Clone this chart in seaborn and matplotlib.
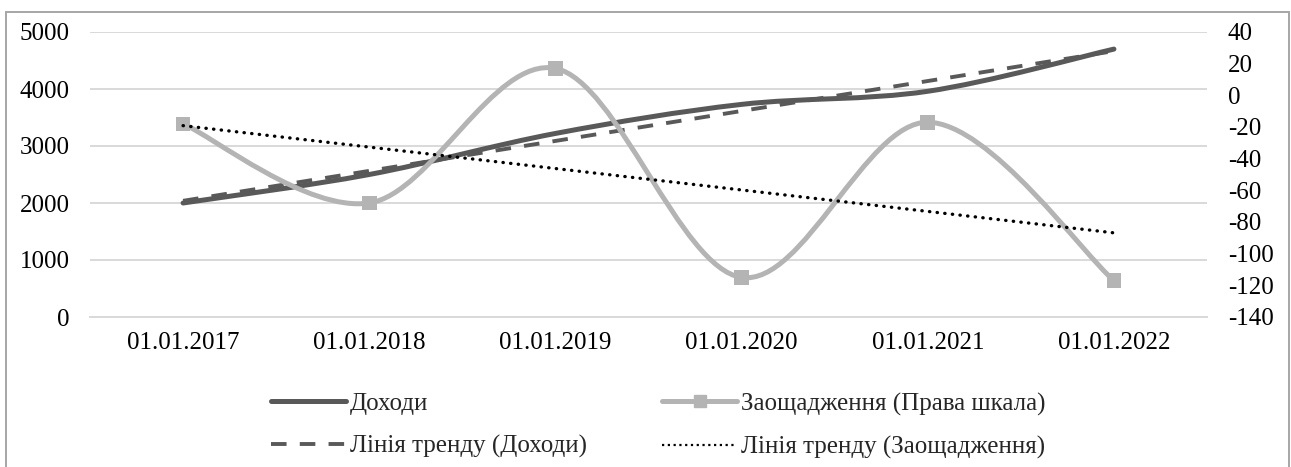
import numpy as np
import pandas as pd
import matplotlib
matplotlib.use("Agg")
import matplotlib.pyplot as plt
from matplotlib.path import Path
from matplotlib.patches import PathPatch, Rectangle
from matplotlib.lines import Line2D
import seaborn as sns

# data
dates = ["01.01.2017", "01.01.2018", "01.01.2019", "01.01.2020", "01.01.2021", "01.01.2022"]
income = [2000, 2500, 3220, 3730, 3960, 4700]
savings = [-18, -68, 17, -115, -17, -117]
left_ticks = [0, 1000, 2000, 3000, 4000, 5000]
right_ticks = [-140, -120, -100, -80, -60, -40, -20, 0, 20, 40]

df = pd.DataFrame({"pos": np.arange(len(dates)), "date": dates,
                   "income": income, "savings": savings})

sns.set_theme(style="white")
plt.rcParams["font.family"] = ["Liberation Serif", "DejaVu Serif"]
plt.rcParams["axes.unicode_minus"] = False
FS = 18

DARK = "#595959"
LIGHT = "#b4b4b4"
GRID = "#d9d9d9"


def smooth_path(xs, ys):
    # excel-like smoothed line: cubic bezier segments through the points
    pts = np.column_stack([xs, ys]).astype(float)
    n = len(pts)
    verts = [pts[0]]
    codes = [Path.MOVETO]
    for i in range(n - 1):
        p_prev = pts[max(i - 1, 0)]
        p0 = pts[i]
        p1 = pts[i + 1]
        p_next = pts[min(i + 2, n - 1)]
        c1 = p0 + (p1 - p_prev) / 6.0
        c2 = p1 - (p_next - p0) / 6.0
        verts += [c1, c2, p1]
        codes += [Path.CURVE4] * 3
    return Path(verts, codes)


fig = plt.figure(figsize=(12.91, 4.67), dpi=100)
ax = fig.add_axes([90 / 1291, 1 - 317 / 467, (1207 - 90) / 1291, (317 - 32) / 467])
ax2 = ax.twinx()

# trend lines (linear fits)
sns.regplot(data=df, x="pos", y="income", ax=ax, scatter=False, ci=None,
            truncate=True, line_kws=dict(color=DARK, lw=2.8, ls=(0, (4, 3.4))))
sns.regplot(data=df, x="pos", y="savings", ax=ax2, scatter=False, ci=None,
            truncate=True, line_kws=dict(color="black", lw=2.4, ls=(0, (0.1, 2.2)),
                                         dash_capstyle="round", zorder=5))

# smoothed series
ax.add_patch(PathPatch(smooth_path(df["pos"], df["income"]), fc="none",
                       ec=DARK, lw=3.6, capstyle="round", zorder=3))
ax2.add_patch(PathPatch(smooth_path(df["pos"], df["savings"]), fc="none",
                        ec=LIGHT, lw=3.6, capstyle="round", zorder=3))
sns.scatterplot(data=df, x="pos", y="savings", ax=ax2, marker="s", s=110,
                color=LIGHT, edgecolor="none", zorder=4, legend=False)

# axes
ax.set_xlim(-0.5, len(dates) - 0.5)
ax.set_ylim(0, 5000)
ax2.set_ylim(-140, 40)
ax.set_yticks(left_ticks)
ax2.set_yticks(right_ticks)
ax.set_xticks(df["pos"])
ax.set_xticklabels(dates)
ax.set_xticks(np.arange(-0.5, len(dates)), minor=True)
ax.set_xlabel("")
ax.set_ylabel("")
ax2.set_ylabel("")

ax.yaxis.grid(True, color=GRID, lw=1.4)
ax.xaxis.grid(False)
ax2.grid(False)
for a in (ax, ax2):
    for s in ["top", "left", "right", "bottom"]:
        a.spines[s].set_visible(False)
ax.spines["bottom"].set_visible(True)
ax.spines["bottom"].set_color(GRID)
ax.spines["bottom"].set_linewidth(1.4)
ax.set_axisbelow(True)

ax.tick_params(axis="x", which="major", length=0, pad=11, labelsize=FS, colors="black")
ax.tick_params(axis="x", which="minor", length=6, width=1.4, color=GRID, direction="out")
ax.tick_params(axis="y", length=0, pad=14.5, labelsize=FS, colors="black")
ax2.yaxis.set_tick_params(which="both", length=0, pad=15, labelsize=FS,
                          labelcolor="black", right=True, labelright=True)

# legend
h_inc = Line2D([], [], color=DARK, lw=3.6, solid_capstyle="round")
h_sav = Line2D([], [], color=LIGHT, lw=3.6, marker="s", ms=9, solid_capstyle="round")
h_tinc = Line2D([], [], color=DARK, lw=2.8, ls=(0, (4, 3.4)))
h_tsav = Line2D([], [], color="black", lw=1.6, ls=(0, (1, 1.6)))
fig.legend([h_inc, h_tinc, h_sav, h_tsav],
           ["Доходи", "Лінія тренду (Доходи)", "Заощадження (Права шкала)",
            "Лінія тренду (Заощадження)"],
           ncol=2, loc="upper center", bbox_to_anchor=(0.51, 1 - 370 / 467),
           frameon=False, fontsize=FS, handlelength=3.0, handletextpad=0.15,
           columnspacing=3.0, labelspacing=0.8, numpoints=1)

# outer chart frame
fig.patches.append(Rectangle((6 / 1291, -0.05), (1289 - 6) / 1291, 1 - 12 / 467 + 0.05,
                             transform=fig.transFigure, fill=False,
                             ec="#a6a6a6", lw=1.4))

fig.savefig("out.png", dpi=100)
